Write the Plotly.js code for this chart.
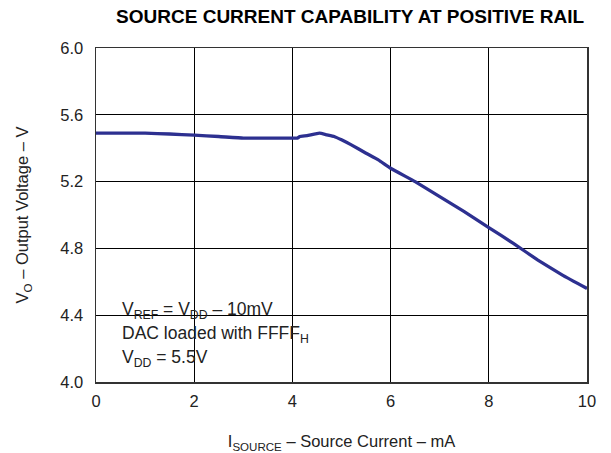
<!DOCTYPE html>
<html><head><meta charset="utf-8">
<script src="https://cdn.plot.ly/plotly-3.0.1.min.js"></script>
<style>html,body{margin:0;padding:0;background:#fff}</style>
</head><body>
<div id="chart" style="width:611px;height:453px"></div>
<script>
const currentMA = [0, 0.5, 1, 1.5, 2, 2.5, 3, 3.5, 4, 4.1, 4.15, 4.3, 4.55, 4.7, 4.85, 5.0, 5.2, 5.5, 5.75, 6, 6.5, 7, 7.5, 8, 8.5, 9, 9.5, 10];
const outputV = [5.49, 5.49, 5.49, 5.485, 5.478, 5.47, 5.46, 5.46, 5.46, 5.46, 5.47, 5.475, 5.49, 5.48, 5.47, 5.45, 5.42, 5.37, 5.33, 5.28, 5.2, 5.11, 5.02, 4.925, 4.83, 4.73, 4.64, 4.56];
const xTicks = [0, 2, 4, 6, 8, 10];
const yTicks = [4.0, 4.4, 4.8, 5.2, 5.6, 6.0];
const yTickText = ["4.0", "4.4", "4.8", "5.2", "5.6", "6.0"];
const noteLines = [
  "V<sub>REF</sub> = V<sub>DD</sub> – 10mV",
  "DAC loaded with FFFF<sub>H</sub>",
  "V<sub>DD</sub> = 5.5V"
];
const noteY = [0.214, 0.143, 0.071];

const fam = "Liberation Sans, Arial, sans-serif";
const font = {family: fam, size: 16.5, color: "#222"};
const noteFont = {family: fam, size: 17.5, color: "#222"};
Plotly.newPlot("chart", [{
  x: currentMA, y: outputV, mode: "lines", type: "scatter",
  line: {color: "#2d3090", width: 3.3, shape: "spline", smoothing: 0.3},
  hoverinfo: "skip"
}], {
  width: 611, height: 453,
  margin: {l: 96, r: 24, t: 48, b: 71},
  paper_bgcolor: "#fff", plot_bgcolor: "#fff",
  font: font,
  showlegend: false,
  title: {text: "<b>SOURCE CURRENT CAPABILITY AT POSITIVE RAIL</b>", font: {family: fam, size: 19, color: "#000"}, x: 0.573, xanchor: "center", y: 0.965, yanchor: "middle"},
  xaxis: {
    range: [0, 10], tickvals: xTicks, ticktext: xTicks.map(String),
    showgrid: true, gridcolor: "#000", gridwidth: 1,
    showline: true, linecolor: "#333", linewidth: 1.5, mirror: true,
    zeroline: false, ticks: "", tickfont: font, ticklabelstandoff: 4,
    title: {text: "I<sub>SOURCE</sub> – Source Current – mA", font: font, standoff: 26}
  },
  yaxis: {
    range: [4.0, 6.0], tickvals: yTicks, ticktext: yTickText,
    showgrid: true, gridcolor: "#000", gridwidth: 1,
    showline: true, linecolor: "#333", linewidth: 1.5, mirror: true,
    zeroline: false, ticks: "", tickfont: font, ticklabelstandoff: 8,
    title: {text: "V<sub>O</sub> – Output Voltage – V", font: font, standoff: 27}
  },
  shapes: [{
    type: "rect", xref: "paper", yref: "paper", layer: "between",
    x0: 0.018, x1: 0.503, y0: 0.021, y1: 0.254,
    fillcolor: "#fff", line: {width: 0}
  }],
  annotations: noteLines.map((t, i) => ({
    xref: "paper", yref: "paper", x: 0.049, y: noteY[i], xanchor: "left", yanchor: "middle",
    text: t, showarrow: false, align: "left", font: noteFont
  }))
}, {displayModeBar: false, staticPlot: true});
</script>
</body></html>
